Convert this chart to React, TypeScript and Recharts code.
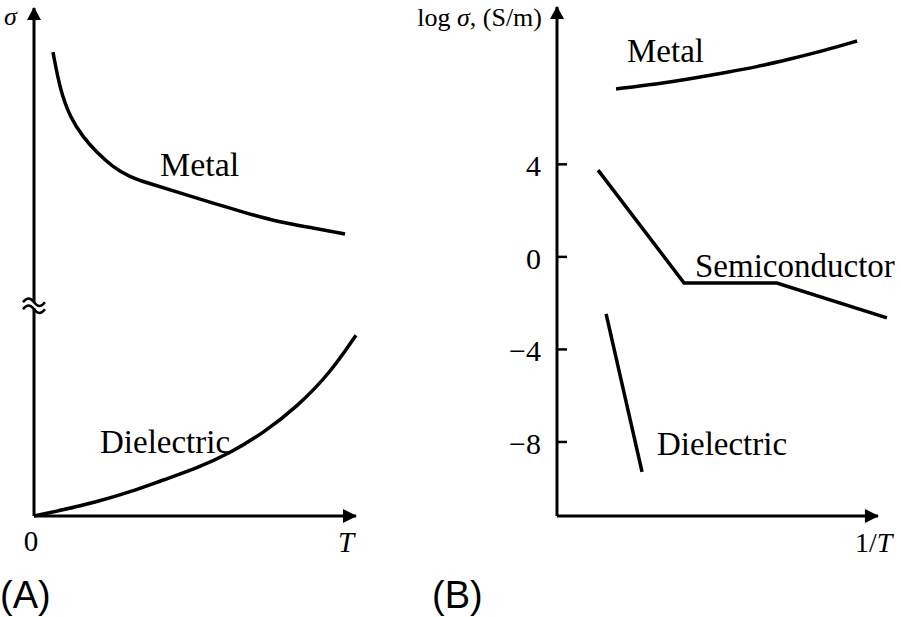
import { LineChart, Line, XAxis, YAxis, ReferenceLine, ReferenceDot } from "recharts";

// (A) sigma vs T, arbitrary units
const metalA = [
  { x: 0.59, y: 9.13 }, { x: 0.81, y: 8.39 }, { x: 1.12, y: 7.85 }, { x: 1.52, y: 7.46 },
  { x: 1.96, y: 7.15 }, { x: 2.45, y: 6.87 }, { x: 2.98, y: 6.67 }, { x: 3.51, y: 6.56 },
  { x: 4.53, y: 6.36 }, { x: 5.56, y: 6.16 }, { x: 6.61, y: 5.96 }, { x: 7.64, y: 5.78 },
  { x: 8.67, y: 5.67 }, { x: 9.66, y: 5.55 }
];
const dielectricA = [
  { x: 0, y: 0 }, { x: 0.9, y: 0.12 }, { x: 1.96, y: 0.28 }, { x: 2.98, y: 0.47 },
  { x: 4.01, y: 0.71 }, { x: 5.06, y: 0.94 }, { x: 6.09, y: 1.24 }, { x: 7.11, y: 1.63 },
  { x: 8.17, y: 2.15 }, { x: 9.19, y: 2.81 }, { x: 10, y: 3.56 }
];
const breakA = 4.15;

// (B) log sigma vs 1/T
const metalB = [
  { x: 1.84, y: 7.26 }, { x: 3.12, y: 7.47 }, { x: 4.14, y: 7.69 }, { x: 5.17, y: 7.95 },
  { x: 6.23, y: 8.21 }, { x: 7.26, y: 8.55 }, { x: 8.29, y: 8.9 }, { x: 9.35, y: 9.33 }
];
const semiB = [
  { x: 1.28, y: 3.75 }, { x: 3.96, y: -1.13 }, { x: 6.85, y: -1.13 }, { x: 10.28, y: -2.64 }
];
const dielectricB = [
  { x: 1.53, y: -2.46 }, { x: 2.65, y: -9.29 }
];
const ticksB = [4, 0, -4, -8];

const serif = "'Liberation Serif', 'Times New Roman', serif";
const sans = "'Liberation Sans', Arial, sans-serif";
const LW = 3.5;

const upArrow = (p: any) => (
  <path d={`M${p.cx},${p.cy - 1} L${p.cx - 7},${p.cy + 12} L${p.cx + 7},${p.cy + 12} Z`} fill="#000" />
);
const rightArrow = (p: any) => (
  <path d={`M${p.cx + 1},${p.cy} L${p.cx - 13},${p.cy - 7} L${p.cx - 13},${p.cy + 7} Z`} fill="#000" />
);
const breakMark = (p: any) => (
  <g>
    <rect x={p.cx - 4} y={p.cy - 3} width={8} height={6} fill="#fff" />
    <path d={`M${p.cx - 11},${p.cy - 3} c4,-5 7,-5 11,0 s7,5 11,0`} fill="none" stroke="#000" strokeWidth={2.5} />
    <path d={`M${p.cx - 11},${p.cy + 4} c4,-5 7,-5 11,0 s7,5 11,0`} fill="none" stroke="#000" strokeWidth={2.5} />
  </g>
);

const TickB = (p: any) => {
  const v = p.payload.value;
  return (
    <g>
      <line x1={p.x} x2={p.x + 10} y1={p.y} y2={p.y} stroke="#000" strokeWidth={2.5} />
      <text x={p.x - 16} y={p.y + 12} textAnchor="end" fontFamily={serif} fontSize={30} fill="#000">
        {String(v).replace("-", "\u2212")}
      </text>
    </g>
  );
};

export default function App() {
  return (
    <div style={{ position: "absolute", left: 0, top: 0, width: 901, height: 617, background: "#fff" }}>
      <div style={{ position: "absolute", left: 0, top: 0 }}>
        <LineChart width={450} height={617} margin={{ top: 8, right: 94, bottom: 101, left: 34 }}>
          <XAxis type="number" dataKey="x" domain={[0, 10]} hide />
          <YAxis type="number" dataKey="y" domain={[0, 10]} hide />
          <ReferenceLine segment={[{ x: 0, y: 0 }, { x: 0, y: 10 }]} stroke="#000" strokeWidth={3} />
          <ReferenceLine segment={[{ x: 0, y: 0 }, { x: 10, y: 0 }]} stroke="#000" strokeWidth={3} />
          <ReferenceDot x={0} y={10} shape={upArrow} />
          <ReferenceDot x={10} y={0} shape={rightArrow} />
          <ReferenceDot x={0} y={breakA} shape={breakMark} />
          <Line data={metalA} dataKey="y" type="basis" stroke="#000" strokeWidth={LW} dot={false} isAnimationActive={false} />
          <Line data={dielectricA} dataKey="y" type="basis" stroke="#000" strokeWidth={LW} dot={false} isAnimationActive={false} />
        </LineChart>
      </div>
      <div style={{ position: "absolute", left: 450, top: 0 }}>
        <LineChart width={451} height={617} margin={{ top: 7, right: 7, bottom: 101, left: 47 }}>
          <XAxis type="number" dataKey="x" domain={[0, 10.5]} hide />
          <YAxis
            type="number"
            dataKey="y"
            domain={[-11.2, 10.8]}
            ticks={ticksB}
            interval={0}
            width={60}
            axisLine={false}
            tickLine={false}
            tickSize={0}
            tickMargin={0}
            tick={<TickB />}
          />
          <ReferenceLine segment={[{ x: 0, y: -11.2 }, { x: 0, y: 10.8 }]} stroke="#000" strokeWidth={3} />
          <ReferenceLine segment={[{ x: 0, y: -11.2 }, { x: 10, y: -11.2 }]} stroke="#000" strokeWidth={3} />
          <ReferenceDot x={0} y={10.8} shape={upArrow} />
          <ReferenceDot x={10} y={-11.2} shape={rightArrow} />
          <Line data={metalB} dataKey="y" type="basis" stroke="#000" strokeWidth={LW} dot={false} isAnimationActive={false} />
          <Line data={semiB} dataKey="y" type="linear" stroke="#000" strokeWidth={LW} dot={false} isAnimationActive={false} />
          <Line data={dielectricB} dataKey="y" type="linear" stroke="#000" strokeWidth={LW} dot={false} isAnimationActive={false} />
        </LineChart>
      </div>
      <svg width={901} height={617} style={{ position: "absolute", left: 0, top: 0, pointerEvents: "none" }}>
        <g fontFamily={serif} fill="#000">
          <text x={4} y={25} fontSize={26} fontStyle="italic">σ</text>
          <text x={160} y={176} fontSize={34}>Metal</text>
          <text x={100} y={453} fontSize={33}>Dielectric</text>
          <text x={31} y={551} fontSize={29} textAnchor="middle">0</text>
          <text x={338} y={552} fontSize={29} fontStyle="italic">T</text>
          <text x={542} y={26} fontSize={26} textAnchor="end">
            log <tspan fontStyle="italic">σ</tspan>, (S/m)
          </text>
          <text x={627} y={62} fontSize={33}>Metal</text>
          <text x={695} y={277} fontSize={33}>Semiconductor</text>
          <text x={657} y={455} fontSize={33}>Dielectric</text>
          <text x={855} y={552} fontSize={28}>
            1/<tspan fontStyle="italic">T</tspan>
          </text>
        </g>
        <g fontFamily={sans} fill="#000">
          <text x={0} y={608} fontSize={38}>(A)</text>
          <text x={432} y={608} fontSize={38}>(B)</text>
        </g>
      </svg>
    </div>
  );
}
